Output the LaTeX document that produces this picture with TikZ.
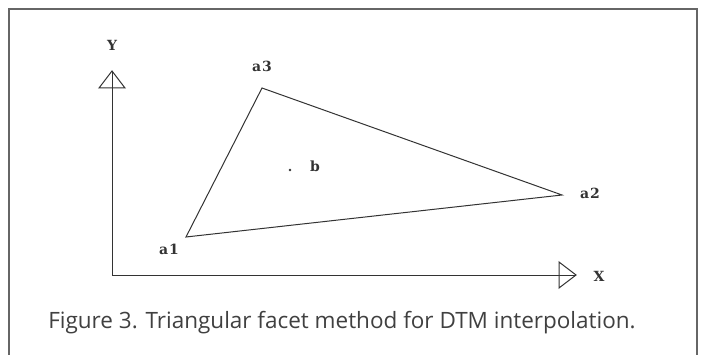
\documentclass[tikz,border=0pt]{standalone}
\usepackage{fontspec}
\newfontfamily\capfont{Open Sans}
\newfontfamily\lblfont{DejaVu Serif}
\begin{document}
\begin{tikzpicture}[x=1pt,y=-1pt,
  frameline/.style={draw=black!60,line width=1.6pt},
  axisline/.style={draw=black!80,line width=1pt},
  tri/.style={draw=black!80,line width=1pt,line join=miter},
  lbl/.style={inner sep=0pt,font=\lblfont\fontsize{14}{14}\selectfont\bfseries,text=black!80},
  captext/.style={inner sep=0pt,font=\capfont\fontsize{22.5}{24}\selectfont,text=black!75}]
\useasboundingbox (0,0) rectangle (703,355);
\draw[frameline] (9,355) -- (9,9) -- (697,9) -- (697,355);
% axes
\coordinate (O) at (112,275);
\coordinate (Ytip) at (112,71);
\coordinate (Xtip) at (576,275);
\draw[axisline] (Ytip) -- (O) -- (Xtip);
\draw[axisline,line join=miter] (Ytip) -- ++(-13,17) -- ++(26,0) -- cycle;
\draw[axisline,line join=miter] (Xtip) -- ++(-17,-13) -- ++(0,26) -- cycle;
\node[lbl] (Y) at (112,45) {Y};
\node[lbl] (X) at (599,276) {X};
% triangle
\coordinate (a1) at (186,237);
\coordinate (a2) at (562,195);
\coordinate (a3) at (262,88);
\draw[tri] (a1) -- (a2) -- (a3) -- cycle;
\node[lbl] (la1) at (169,249) {a\kern1pt1};
\node[lbl] (la2) at (590,193) {a\kern1pt2};
\node[lbl] (la3) at (262,66) {a\kern1pt3};
\coordinate (bdot) at (290,170);
\fill[black!80] (bdot) circle (1.3pt);
\node[lbl] (b) at (315,166) {b};
% caption
\node[captext] (caption) at (342,323) {Figure 3. Triangular facet method for DTM interpolation.};
\end{tikzpicture}
\end{document}
